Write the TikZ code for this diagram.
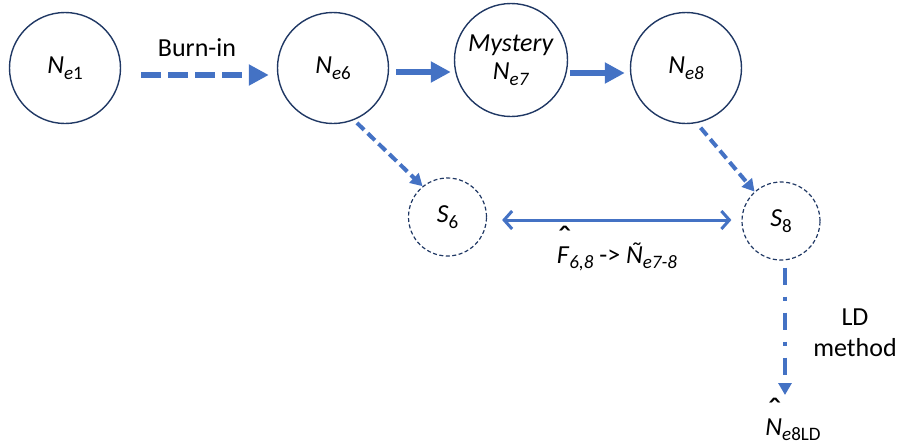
\documentclass[tikz,border=0pt]{standalone}
\usepackage{fontspec}
\usepackage{graphicx}
\setmainfont{Carlito}
\usetikzlibrary{arrows.meta,calc}
\definecolor{navy}{HTML}{203864}
\definecolor{ablue}{HTML}{4472C4}
\newcommand{\sbs}[1]{\raisebox{-0.22em}{\fontsize{19}{19}\selectfont #1}}
\newcommand{\hatit}[1]{{\ooalign{\textit{#1}\cr\hidewidth\kern0.12em\raisebox{0.42em}{\upshape\scalebox{1.5}{\char"02C6}}\hidewidth\cr}}}
\begin{document}
\begin{tikzpicture}[x=1pt,y=-1pt,
  font=\fontsize{26}{30}\selectfont,
  bigc/.style={circle, draw=navy, line width=1.4pt, minimum size=111pt, inner sep=0pt, align=center},
  smallc/.style={circle, draw=navy, line width=1.2pt, dash pattern=on 4pt off 2.5pt, minimum size=78pt, inner sep=0pt},
  burnarr/.style={ablue, line width=6pt, dash pattern=on 20pt off 7pt, -{Triangle[length=20pt,width=20pt]}},
  solidarr/.style={ablue, line width=6.5pt, -{Triangle[length=20pt,width=20pt]}},
  diagarr/.style={ablue, line width=4pt, dash pattern=on 10pt off 5pt, -{Triangle[length=12pt,width=13pt]}},
  dblarr/.style={ablue, line width=3pt, {Straight Barb[length=8pt,width=18pt,line width=3pt]}-{Straight Barb[length=8pt,width=18pt,line width=3pt]}},
  ldarr/.style={ablue, line width=4.5pt, dash pattern=on 17pt off 12pt on 4pt off 12pt, -{Triangle[length=12pt,width=13pt]}},
  lbl/.style={inner sep=0pt, align=center}
]
\useasboundingbox (0,0) rectangle (898,445);
\node[bigc] (ne1) at (65,68) {\textit{N}\sbs{\textit{e}1}};
\node[bigc] (ne6) at (333,68) {\textit{N}\sbs{\textit{e}6}};
\node[bigc, minimum size=113pt] (ne7) at (511,60) {\textit{Mystery}\\[-2pt]\textit{N}\sbs{\textit{e7}}};
\node[bigc] (ne8) at (686,68) {\textit{N}\sbs{\textit{e8}}};
\node[smallc] (s6) at (447.5,217) {\textit{S}\sbs{6}};
\node[smallc] (s8) at (781,221) {\textit{S}\sbs{8}};
\node[lbl] (burn) at (197,48) {Burn-in};
\node[lbl, anchor=base] (flbl) at (617,263) {\hatit{F}\sbs{\textit{6,8}} -> \textit{\~{N}}\sbs{\textit{e7-8}}};
\node[lbl] (ld) at (855,333) {LD\\[1pt]method};
\node[lbl, anchor=base] (nld) at (793,435) {\hatit{N}\sbs{\textit{e}8LD}};
\coordinate (b1) at ($(ne1.east)+(20,7)$);
\draw[burnarr] (b1) -- ($(b1 -| ne6.west)+(-8,0)$);
\coordinate (a1) at ($(ne6.east)+(7,4)$);
\draw[solidarr] (a1) -- ($(a1 -| ne7.west)+(-3,0)$);
\coordinate (a2) at ($(ne7.east)+(2,13)$);
\draw[solidarr] (a2) -- ($(a2 -| ne8.west)+(-5,0)$);
\draw[diagarr, shorten <=4pt] (ne6.-68) -- (s6.129);
\draw[diagarr, shorten <=6pt] (ne8.-79) -- (s8.132);
\coordinate (d1) at ($(s6.east)+(15,3)$);
\draw[dblarr] (d1) -- ($(d1 -| s8.west)+(-10,0)$);
\coordinate (l1) at ($(s8.south)+(4,7)$);
\draw[ldarr] (l1) -- (l1 |- {$(nld.base)+(0,-40)$});
\end{tikzpicture}
\end{document}
